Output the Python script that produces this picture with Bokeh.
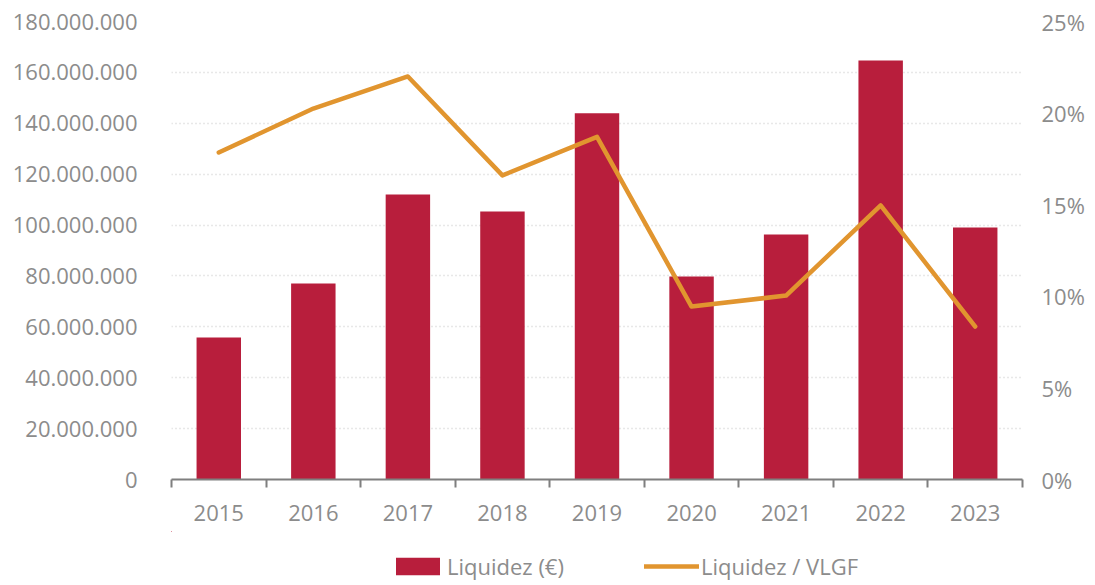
from bokeh.plotting import figure
from bokeh.layouts import column
from bokeh.models import Range1d, LinearAxis, FixedTicker, Legend, LegendItem
from bokeh.embed import file_html
from bokeh.resources import INLINE

years = ["2015", "2016", "2017", "2018", "2019", "2020", "2021", "2022", "2023"]
liquidez = [55.8e6, 77.0e6, 112.0e6, 105.3e6, 143.9e6, 79.8e6, 96.3e6, 164.7e6, 99.0e6]
ratio = [0.1785, 0.2025, 0.2200, 0.1660, 0.1870, 0.0944, 0.1004, 0.1496, 0.0835]

y_ticks = [0, 20e6, 40e6, 60e6, 80e6, 100e6, 120e6, 140e6, 160e6, 180e6]
y_labels = ["0", "20.000.000", "40.000.000", "60.000.000", "80.000.000", "100.000.000",
            "120.000.000", "140.000.000", "160.000.000", "180.000.000"]
pct_ticks = [0, 0.05, 0.10, 0.15, 0.20, 0.25]
pct_labels = ["0%", "5%", "10%", "15%", "20%", "25%"]
series_names = ["Liquidez (€)", "Liquidez / VLGF"]

FONT = "Open Sans"
TXT = "#8c8c8c"
BAR = "#B81E3C"
LINE = "#E1952F"

xs = list(range(len(years)))

p = figure(width=1087, height=531, output_backend="svg", toolbar_location=None,
           x_range=Range1d(-0.5, len(years) - 0.5), y_range=Range1d(0, 180e6),
           min_border_left=171, min_border_right=65, min_border_top=21, min_border_bottom=52)
p.outline_line_color = None
p.background_fill_color = "white"
p.border_fill_color = "white"
p.extra_y_ranges = {"pct": Range1d(0, 0.25)}

p.xgrid.grid_line_color = None
p.ygrid.ticker = FixedTicker(ticks=y_ticks)
p.ygrid.grid_line_color = "#d0d0d0"
p.ygrid.grid_line_dash = "1 3"
p.ygrid.grid_line_width = 1.5

p.vbar(x=xs, top=liquidez, width=0.47, fill_color=BAR, line_color=None)
p.line(x=xs, y=ratio, y_range_name="pct", line_color=LINE, line_width=4.5,
       line_join="round", line_cap="round")

# x axis
xa = p.xaxis[0]
xa.ticker = FixedTicker(ticks=xs, minor_ticks=[i - 0.5 for i in range(len(years) + 1)])
xa.major_label_overrides = {i: y for i, y in enumerate(years)}
xa.major_tick_out = 0
xa.major_tick_in = 0
xa.minor_tick_out = 8
xa.minor_tick_in = 0
xa.minor_tick_line_color = "#7f7f7f"
xa.minor_tick_line_width = 2
xa.axis_line_color = "#7f7f7f"
xa.axis_line_width = 2
xa.major_label_standoff = 17
xa.major_label_text_font = FONT
xa.major_label_text_font_size = "22px"
xa.major_label_text_color = TXT

# left y axis
ya = p.yaxis[0]
ya.ticker = FixedTicker(ticks=y_ticks, minor_ticks=[])
ya.major_label_overrides = {t: l for t, l in zip(y_ticks, y_labels)}
ya.axis_line_color = None
ya.major_tick_line_color = None
ya.minor_tick_line_color = None
ya.major_label_standoff = 28
ya.major_label_text_font = FONT
ya.major_label_text_font_size = "22px"
ya.major_label_text_color = TXT

# right y axis
ra = LinearAxis(y_range_name="pct", ticker=FixedTicker(ticks=pct_ticks, minor_ticks=[]))
ra.major_label_overrides = {t: l for t, l in zip(pct_ticks, pct_labels)}
ra.axis_line_color = None
ra.major_tick_line_color = None
ra.minor_tick_line_color = None
ra.major_label_standoff = 13
ra.major_label_text_font = FONT
ra.major_label_text_font_size = "22px"
ra.major_label_text_color = TXT
p.add_layout(ra, "right")

# legend strip below the chart (series placed entirely out of view, only legend shows)
lg = figure(width=1087, height=52, output_backend="svg", toolbar_location=None,
            x_range=Range1d(100, 101), y_range=Range1d(-2, -1), min_border=0,
            x_axis_location=None, y_axis_location=None)
lg.outline_line_color = None
lg.grid.visible = False
lb = lg.vbar(x=xs, top=liquidez, width=0.47, fill_color=BAR, line_color=None)
ll = lg.line(x=xs, y=ratio, line_color=LINE, line_width=4.5, line_cap="round")
legend = Legend(items=[LegendItem(label=series_names[0], renderers=[lb]),
                       LegendItem(label=series_names[1], renderers=[ll])],
                orientation="horizontal", location=(219, 2),
                glyph_width=55, glyph_height=22, label_standoff=2, spacing=80,
                padding=0, margin=0, border_line_color=None, background_fill_alpha=0,
                label_text_font=FONT, label_text_font_size="22px", label_text_color=TXT)
lg.add_layout(legend, "center")

open("out.html", "w").write(file_html(column(p, lg, spacing=0), INLINE))
